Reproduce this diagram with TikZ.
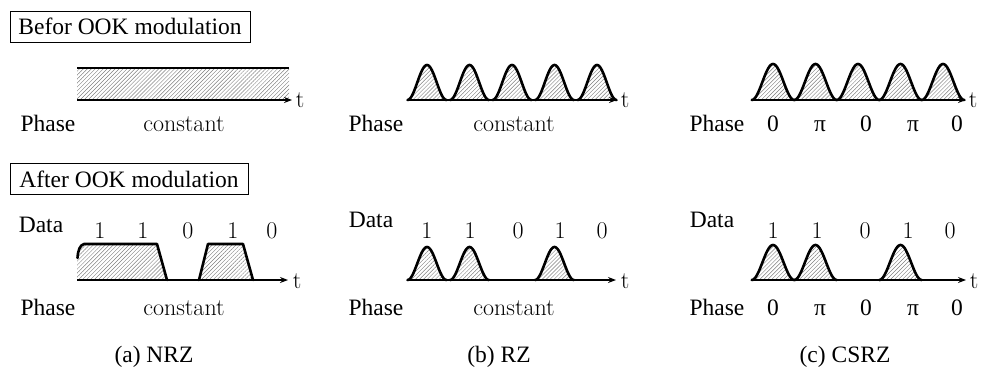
\documentclass[tikz,border=0pt]{standalone}
\usepackage{fontspec}
\newfontfamily\tms{Liberation Serif}
\usetikzlibrary{arrows.meta,patterns.meta}
\newcommand\mypulse[5]{% name, center, base, height, halfwidth
  \fill[hatch] plot[domain=-#5:#5, samples=41] ({#2+\x},{#3-#4*cos(90*\x/#5)^2}) -- cycle;
  \draw[wave] plot[domain=-#5:#5, samples=41] ({#2+\x},{#3-#4*cos(90*\x/#5)^2});
  \coordinate (#1) at (#2,#3-#4);
}
\begin{document}
\begin{tikzpicture}[x=1pt,y=-1pt,
  lbl/.style={font=\tms\fontsize{23.5}{26}\selectfont, anchor=base, inner sep=0pt},
  cmtxt/.style={font=\fontsize{24}{28}\selectfont, anchor=base, inner sep=0pt},
  taxis/.style={line width=1.2pt, -{Stealth[length=8pt,width=6pt]}},
  wave/.style={line width=2.6pt, line join=round, line cap=round},
  hatch/.style={pattern={Lines[angle=45,distance=2.8pt,line width=0.45pt]}, pattern color=black!50},
  titlebox/.style={draw, line width=0.8pt, font=\tms\fontsize{23.5}{26}\selectfont, minimum width=240pt, minimum height=31pt, inner sep=0pt},
]
\useasboundingbox (0,0) rectangle (981,378);

% title boxes
\node[titlebox] (before) at (130,26.5) {Befor OOK modulation};
\node[titlebox, minimum width=238pt] (after) at (129,179) {After OOK modulation};

% ===== Row 1 : before modulation =====
% NRZ
\fill[hatch] (77,68) rectangle (289,100);
\coordinate (n1tl) at (77,68);
\coordinate (n1tr) at (289,68);
\draw[line width=2.6pt] (n1tl) -- (n1tr);
\coordinate (n1s) at (77,100);
\coordinate (n1e) at (292,100);
\draw[taxis] (n1s) -- (n1e);
\node[cmtxt] (n1t) at (300,107) {t};
\node[lbl] (n1ph) at (48,131) {Phase};
\node[cmtxt] (n1c) at (184,131) {constant};

% RZ
\foreach \c [count=\i] in {427,469.5,512,554.5,597}{\mypulse{r1p\i}{\c}{100}{35}{19.5}}
\coordinate (r1s) at (407,100);
\coordinate (r1e) at (617,100);
\draw[taxis] (r1s) -- (r1e);
\node[cmtxt] (r1t) at (625,107) {t};
\node[lbl] (r1ph) at (376,131) {Phase};
\node[cmtxt] (r1c) at (514,131) {constant};

% CSRZ
\foreach \c [count=\i] in {773,815.5,858,900.5,943}{\mypulse{c1p\i}{\c}{100}{36}{21.25}}
\coordinate (c1s) at (752,100);
\coordinate (c1e) at (966,100);
\draw[taxis] (c1s) -- (c1e);
\node[cmtxt] (c1t) at (973,107) {t};
\node[lbl] (c1ph) at (717,131) {Phase};
\foreach \x/\v [count=\i] in {773/0,820/π,866/0,913/π,957/0}{\node[lbl] (c1v\i) at (\x,131) {\v};}

% ===== Row 2 : after modulation =====
% NRZ
\fill[hatch] (77,280) -- (77,258) .. controls (78,250) and (80,245) .. (84,244) -- (157,244) -- (167,280) -- cycle;
\fill[hatch] (199,280) -- (208,244) -- (243,244) -- (253,280) -- cycle;
\draw[wave] (77.5,258) .. controls (78,250) and (80,245) .. (84,244) -- (157,244) -- (167,280);
\draw[wave] (199,280) -- (208,244) -- (243,244) -- (253,280);
\coordinate (n2s) at (77,280);
\coordinate (n2e) at (288,280);
\draw[taxis] (n2s) -- (n2e);
\node[cmtxt] (n2t) at (297,288) {t};
\node[lbl] (n2d) at (41,232) {Data};
\foreach \x/\v [count=\i] in {100/1,143/1,188/0,233/1,272/0}{\node[cmtxt] (n2b\i) at (\x,238) {\v};}
\node[lbl] (n2ph) at (48,315) {Phase};
\node[cmtxt] (n2c) at (184,315) {constant};

% RZ
\foreach \c [count=\i] in {427,469.5,554.5}{\mypulse{r2p\i}{\c}{280}{33}{19.5}}
\coordinate (r2s) at (407,280);
\coordinate (r2e) at (616,280);
\draw[taxis] (r2s) -- (r2e);
\node[cmtxt] (r2t) at (625,288) {t};
\node[lbl] (r2d) at (371,227) {Data};
\foreach \x/\v [count=\i] in {427/1,470/1,518/0,560/1,602/0}{\node[cmtxt] (r2b\i) at (\x,238) {\v};}
\node[lbl] (r2ph) at (376,315) {Phase};
\node[cmtxt] (r2c) at (514,315) {constant};

% CSRZ
\foreach \c [count=\i] in {773,815.5,900.5}{\mypulse{c2p\i}{\c}{280}{35}{21.25}}
\coordinate (c2s) at (752,280);
\coordinate (c2e) at (966,280);
\draw[taxis] (c2s) -- (c2e);
\node[cmtxt] (c2t) at (974,288) {t};
\node[lbl] (c2d) at (712,227) {Data};
\foreach \x/\v [count=\i] in {773/1,817/1,865/0,908/1,950/0}{\node[cmtxt] (c2b\i) at (\x,238) {\v};}
\node[lbl] (c2ph) at (717,315) {Phase};
\foreach \x/\v [count=\i] in {773/0,820/π,866/0,913/π,957/0}{\node[lbl] (c2v\i) at (\x,315) {\v};}

% captions
\node[lbl] (capa) at (154,362) {(a) NRZ};
\node[lbl] (capb) at (499,362) {(b) RZ};
\node[lbl] (capc) at (845,362) {(c) CSRZ};
\end{tikzpicture}
\end{document}
